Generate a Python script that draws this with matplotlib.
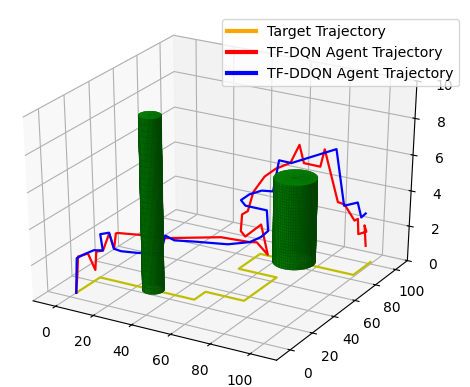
import numpy as np
import matplotlib
matplotlib.use("Agg")
import matplotlib.pyplot as plt
from matplotlib.lines import Line2D

# target path on the floor
target_x = [0, 0, 50, 50, 70, 70, 50, 50, 99, 99]
target_y = [5, 25, 25, 35, 35, 65, 65, 85, 85, 102]
target_z = [0, 0, 0, 0, 0, 0, 0, 0, 0, 0]

dqn_x = [0, -2.3, -2.3, -0.8, 0.6, 0.7, 2.1, 5.7, 8.1, 9.3, 10.5, 22.5, 35.6, 61.2, 67.9, 68.2, 68.7, 68.4,
         53.4, 51, 51, 51.3, 51.5, 52, 57, 63.5, 68, 70.5, 75.5, 79, 81, 88.5, 92, 98.5, 98.5, 99,
         99.5, 99, 100]
dqn_y = [5, 10, 11.1, 17, 20.4, 21.6, 25, 25, 25, 25, 25, 24.6, 24.3, 29.6, 43.5, 49.3, 58.7, 52.8,
         64.9, 65, 66.1, 70.8, 75.4, 84.8, 85.9, 88, 87.9, 87.8, 87.7, 87.6, 87.6, 87.5, 87.4, 85, 88.4, 88.4,
         95.4, 94.3, 94.3]
dqn_z = [0, 0.8, 1.75, 1.7, 0.65, 1.65, 1.6, 2.65, 1.85, 2.75, 2.8, 3.0, 3.15, 3.6, 2.9, 2.65, 1.55, 3.5,
         1.95, 2.2, 3.1, 3.1, 4.0, 4.5, 5.0, 5.4, 6.5, 5.55, 5.55, 5.55, 6.55, 3.8, 3.75, 3.1, 3.05, 2.2,
         2.05, 2.45, 1.3]

ddqn_x = [0, -2.3, -2, -0.6, 2, 0.9, 5.7, 8, 11.7, 21.2, 33.2, 35.7, 40.5, 49, 64.8, 67.9, 68.4, 68.7, 68.6,
          53.4, 51, 51.4, 51.9, 57.9, 57.5, 64, 87, 93, 97.5, 99, 100]
ddqn_y = [5, 10, 14.6, 21.6, 25, 25, 25, 25, 25, 24.6, 24.4, 24.3, 24.2, 26.4, 29.5, 43.5, 52.8, 58.7, 57.5,
          64.9, 65, 71.9, 82.5, 82.3, 88.2, 88, 87.4, 85, 89.6, 90.7, 93]
ddqn_z = [0, 1.7, 1.7, 1.7, 1.6, 2.5, 2.7, 1.85, 1.8, 1.95, 2.25, 3.3, 3.15, 3.2, 3.3, 2.9, 2.8, 2.9, 4.1,
          3.7, 3.95, 4.0, 3.8, 3.9, 5.4, 5.4, 6.7, 3.8, 3.9, 3.05, 3.2]

# obstacles: centre x, centre y, radius, height
obstacle_x = [28.5, 68]
obstacle_y = [25, 85]
obstacle_r = [5, 10]
obstacle_h = [9.6, 4.8]

legend_labels = ["Target Trajectory", "TF-DQN Agent Trajectory", "TF-DDQN Agent Trajectory"]
legend_colors = ["orange", "red", "blue"]

fig = plt.figure(figsize=(4.7, 3.87), dpi=100)
ax = fig.add_axes([-33 / 470, 4 / 387, 499 / 470, 372 / 387], projection="3d", computed_zorder=False)
# let the box stretch with the axes instead of staying square
ax.apply_aspect = lambda position=None: None
ax.set_box_aspect((1, 1, 1), zoom=1 / 1.056)

ax.plot(target_x, target_y, target_z, color="y", lw=1.6, zorder=1)
ax.plot(dqn_x, dqn_y, dqn_z, color="red", lw=1.6, zorder=2)
ax.plot(ddqn_x, ddqn_y, ddqn_z, color="blue", lw=1.6, zorder=3)

theta = np.linspace(0, 2 * np.pi, 61)
for cx, cy, r, h in zip(obstacle_x, obstacle_y, obstacle_r, obstacle_h):
    zs = np.linspace(0, h, 31)
    tt, zz = np.meshgrid(theta, zs)
    ax.plot_surface(cx + r * np.cos(tt), cy + r * np.sin(tt), zz, color="green",
                    edgecolor="#004d00", linewidth=0.2, alpha=0.9, rcount=31, ccount=61, zorder=4)
    # end caps
    rr, tt2 = np.meshgrid([0, r], theta)
    xc = cx + rr * np.cos(tt2)
    yc = cy + rr * np.sin(tt2)
    ax.plot_surface(xc, yc, np.zeros_like(xc), color="green", shade=False, rcount=61, ccount=2, zorder=3.5)
    ax.plot_surface(xc, yc, np.full_like(xc, h), color="green", shade=False, rcount=61, ccount=2, zorder=5)

ax.set_xlim(-12, 113)
ax.set_ylim(-12, 112)
ax.set_zlim(0, 10)
ax.set_xticks([0, 20, 40, 60, 80, 100])
ax.set_yticks([0, 20, 40, 60, 80, 100])
ax.set_zticks([0, 2, 4, 6, 8, 10])

handles = [Line2D([0], [0], color=c, lw=3) for c in legend_colors]
fig.legend(handles, legend_labels, loc="upper right", bbox_to_anchor=(0.9766, 0.951),
           fontsize=10.15, borderaxespad=0)

fig.savefig("out.png", dpi=100)
